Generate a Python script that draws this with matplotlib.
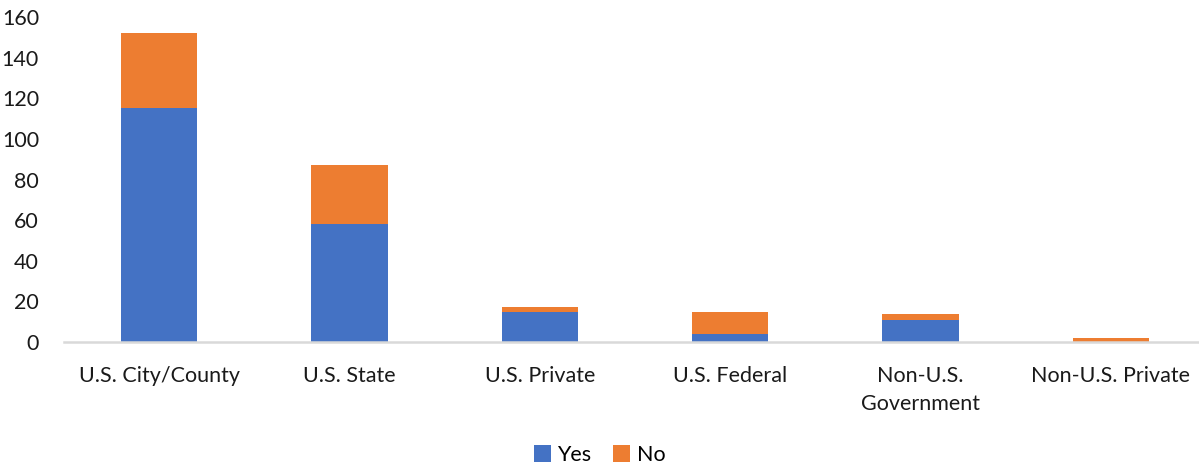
import matplotlib.pyplot as plt
import numpy as np

categories = ["U.S. City/County", "U.S. State", "U.S. Private", "U.S. Federal",
              "Non-U.S.\nGovernment", "Non-U.S. Private"]
yes = [115, 58, 15, 4, 11, 0]
no = [37, 29, 2, 11, 3, 2]

plt.rcParams['font.family'] = ['Lato', 'DejaVu Sans']

fig = plt.figure(figsize=(11.99, 4.70), dpi=100)
# the plot area runs slightly past the right edge of the figure
ax = fig.add_axes([64 / 1199, 1 - 342 / 470, 1142 / 1199, 325 / 470])

x = np.arange(len(categories))
ax.bar(x, yes, width=0.4, color='#4472C4', label='Yes', zorder=2)
ax.bar(x, no, width=0.4, bottom=yes, color='#ED7D31', label='No', zorder=2)

ax.set_xlim(-0.5, len(categories) - 0.5)
ax.set_ylim(0, 160)
ax.set_yticks(range(0, 161, 20))
ax.set_xticks(x)
ax.set_xticklabels(categories, fontsize=15.5, color='#1a1a1a', linespacing=1.5)
ax.tick_params(axis='y', labelsize=15.5, labelcolor='#1a1a1a', length=0, pad=18)
ax.tick_params(axis='x', length=0, pad=17)

for side in ['top', 'right', 'left']:
    ax.spines[side].set_visible(False)
ax.spines['bottom'].set_color('#D9D9D9')
ax.spines['bottom'].set_linewidth(1.8)

fig.legend(loc='center', bbox_to_anchor=(0.5, 1 - 455 / 470), ncol=2, frameon=False,
           fontsize=15.5, handlelength=0.8, handleheight=0.8, handletextpad=0.3,
           columnspacing=1.0)

fig.savefig('out.png', dpi=100)
